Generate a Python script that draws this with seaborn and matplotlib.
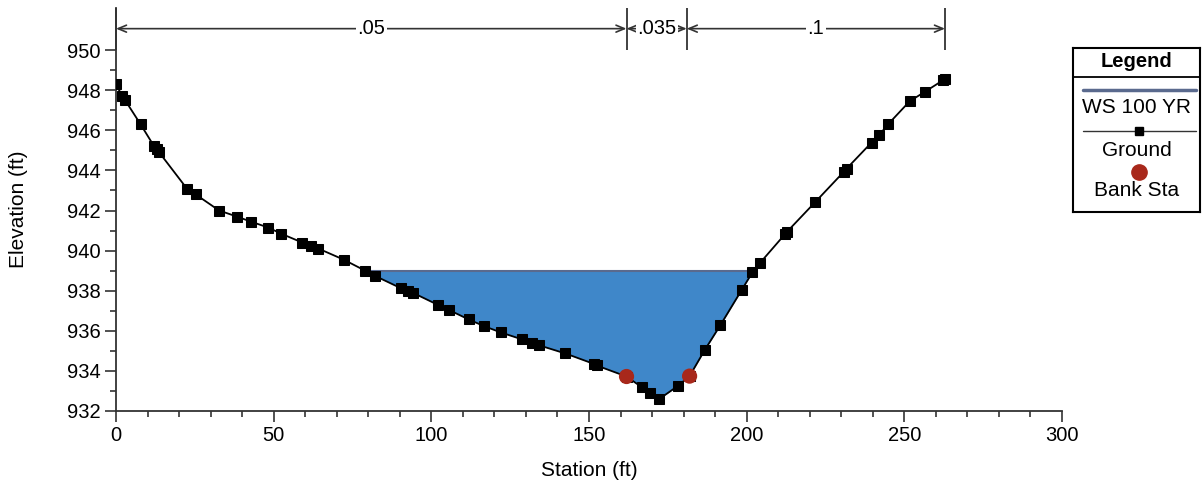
import matplotlib
matplotlib.use("Agg")
import matplotlib.pyplot as plt
from matplotlib.ticker import FixedLocator, MultipleLocator
import numpy as np
import pandas as pd
import seaborn as sns

# ground survey points (station ft, elevation ft)
station = [0.0, 2.0, 2.9, 7.8, 12.1, 13.1, 13.7, 22.6, 25.3, 32.7, 38.3, 42.7,
           48.3, 52.3, 59.1, 61.8, 64.2, 72.2, 79.0, 82.0, 90.4, 92.5, 94.1,
           102.0, 105.7, 111.8, 116.6, 122.0, 128.8, 132.0, 134.3, 142.5,
           151.7, 152.4, 161.9, 166.8, 169.2, 172.1, 178.2, 181.9, 186.7,
           191.7, 198.4, 201.8, 204.1, 212.1, 212.8, 221.8, 230.8, 231.7,
           239.6, 242.0, 244.9, 251.7, 256.5, 262.3, 262.9]
elevation = [948.3, 947.7, 947.5, 946.3, 945.2, 945.05, 944.9, 943.07, 942.8,
             942.0, 941.7, 941.45, 941.15, 940.85, 940.4, 940.25, 940.1,
             939.55, 939.0, 938.75, 938.12, 938.0, 937.9, 937.3, 937.03,
             936.57, 936.24, 935.92, 935.57, 935.4, 935.27, 934.87, 934.34,
             934.27, 933.72, 933.18, 932.88, 932.58, 933.25, 933.74, 935.04,
             936.29, 938.03, 938.91, 939.36, 940.81, 940.94, 942.43, 943.93,
             944.09, 945.39, 945.76, 946.31, 947.45, 947.92, 948.5, 948.55]

bank_station = [161.9, 181.9]
bank_elevation = [933.72, 933.74]

ws_elevation = 939.0

n_breaks = [0.0, 161.9, 181.0, 262.9]
n_values = [".05", ".035", ".1"]

sta = np.array(station)
elev = np.array(elevation)

sns.set_style("ticks")
plt.rcParams["font.family"] = ["Liberation Sans", "DejaVu Sans"]
plt.rcParams.update({"text.color": "black", "axes.labelcolor": "black",
                     "xtick.color": "black", "ytick.color": "black"})

fig = plt.figure(figsize=(12.03, 4.88), dpi=100)
ax = fig.add_axes([0.0964, 0.1578, 0.7864, 0.8258])

# water fill between ground and WS
ax.fill_between(sta, elev, ws_elevation, where=elev <= ws_elevation,
                interpolate=True, color="#3f87c9", linewidth=0, zorder=1)
i_min = int(np.argmin(elev))
x_left = np.interp(ws_elevation, elev[:i_min + 1][::-1], sta[:i_min + 1][::-1])
x_right = np.interp(ws_elevation, elev[i_min:], sta[i_min:])
ax.plot([x_left, x_right], [ws_elevation, ws_elevation], color="#5a6a8e",
        lw=1.5, zorder=2)

ground = pd.DataFrame({"Station": station, "Elevation": elevation})
sns.lineplot(data=ground, x="Station", y="Elevation", sort=False, estimator=None,
             color="black", lw=1.3, marker="s", markersize=7,
             markeredgecolor="black", ax=ax, zorder=3)
sns.scatterplot(x=bank_station, y=bank_elevation, color="#a8281b", s=120,
                edgecolor="none", ax=ax, zorder=4)

ax.set_xlim(0, 300)
ax.set_ylim(932, 952.1)
ax.set_xticks(range(0, 301, 50))
ax.xaxis.set_minor_locator(MultipleLocator(10))
ax.set_yticks(range(932, 951, 2))
ax.yaxis.set_minor_locator(FixedLocator(range(933, 950, 2)))
ax.tick_params(which="major", length=8, width=1.2, labelsize=14.5, pad=3,
               color="#333333")
ax.tick_params(which="minor", length=4, width=1.2, color="#333333")
sns.despine(ax=ax)
for side in ["left", "bottom"]:
    ax.spines[side].set_linewidth(1.3)
    ax.spines[side].set_color("#333333")

ax.set_xlabel("Station (ft)", fontsize=15)
ax.set_ylabel("Elevation (ft)", fontsize=15)
ax.xaxis.set_label_coords(0.5, -0.125)
ax.yaxis.set_label_coords(-0.093, 0.5)

# Manning's n annotations across the top
y_ann = 951.07
ax.vlines(n_breaks, 950.0, 952.1, color="#333333", lw=1.3, clip_on=False)
for x0, x1, label in zip(n_breaks[:-1], n_breaks[1:], n_values):
    ax.annotate("", xy=(x0, y_ann), xytext=(x1, y_ann),
                arrowprops=dict(arrowstyle="<->,head_length=0.6,head_width=0.25",
                                color="#333333", lw=1.2, shrinkA=0, shrinkB=0),
                annotation_clip=False)
    ax.text((x0 + x1) / 2, y_ann, label, ha="center", va="center", fontsize=14.5,
            bbox=dict(facecolor="white", edgecolor="none", pad=1), zorder=5)

# custom legend box
lg = fig.add_axes([0.892, 0.5656, 0.1055, 0.336])
lg.set_xlim(0, 1)
lg.set_ylim(1, 0)
lg.set_xticks([])
lg.set_yticks([])
for sp in lg.spines.values():
    sp.set_linewidth(1.5)
    sp.set_color("black")
lg.text(0.5, 0.085, "Legend", ha="center", va="center", fontsize=14.5,
        fontweight="bold")
lg.axhline(0.177, color="black", lw=1.3)
lg.plot([0.079, 0.97], [0.256, 0.256], color="#5a6a8e", lw=2.5)
lg.text(0.5, 0.36, "WS 100 YR", ha="center", va="center", fontsize=15)
lg.plot([0.079, 0.97], [0.506, 0.506], color="#333333", lw=1)
lg.plot([0.52], [0.506], marker="s", markersize=6, color="black")
lg.text(0.5, 0.622, "Ground", ha="center", va="center", fontsize=15)
lg.plot([0.52], [0.756], marker="o", markersize=11, color="#a8281b")
lg.text(0.5, 0.866, "Bank Sta", ha="center", va="center", fontsize=15)

fig.savefig("out.png", dpi=100)
plt.close(fig)
